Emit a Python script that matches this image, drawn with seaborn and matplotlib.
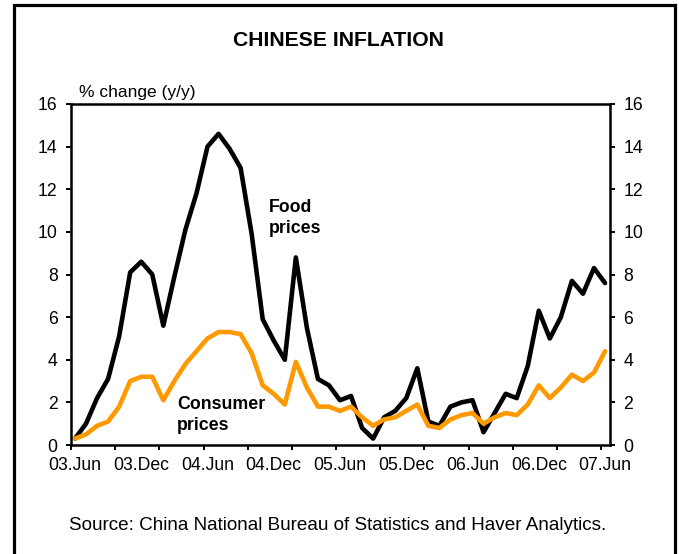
import numpy as np
import pandas as pd
import matplotlib
matplotlib.use("Agg")
import matplotlib.pyplot as plt
from matplotlib.patches import Rectangle
import seaborn as sns

# ---- data (monthly, 2003.Jun .. 2007.Jun) ----
months = list(range(49))
food = [0.3, 1.0, 2.2, 3.1, 5.1, 8.1, 8.6, 8.0, 5.6, 7.9,
        10.1, 11.8, 14.0, 14.6, 13.9, 13.0, 9.9, 5.9, 4.9, 4.0,
        8.8, 5.5, 3.1, 2.8, 2.1, 2.3, 0.8, 0.3, 1.3, 1.6,
        2.2, 3.6, 1.1, 0.9, 1.8, 2.0, 2.1, 0.6, 1.5, 2.4,
        2.2, 3.7, 6.3, 5.0, 6.0, 7.7, 7.1, 8.3, 7.6]
consumer = [0.3, 0.5, 0.9, 1.1, 1.8, 3.0, 3.2, 3.2, 2.1, 3.0,
            3.8, 4.4, 5.0, 5.3, 5.3, 5.2, 4.3, 2.8, 2.4, 1.9,
            3.9, 2.7, 1.8, 1.8, 1.6, 1.8, 1.3, 0.9, 1.2, 1.3,
            1.6, 1.9, 0.9, 0.8, 1.2, 1.4, 1.5, 1.0, 1.3, 1.5,
            1.4, 1.9, 2.8, 2.2, 2.7, 3.3, 3.0, 3.4, 4.4]
xtick_labels = ["03.Jun", "03.Dec", "04.Jun", "04.Dec", "05.Jun",
                "05.Dec", "06.Jun", "06.Dec", "07.Jun"]
label_months = [0, 6, 12, 18, 24, 30, 36, 42, 48]
yticks = [0, 2, 4, 6, 8, 10, 12, 14, 16]
series_names = ["Food prices", "Consumer prices"]

sns.set_theme(style="white")
plt.rcParams["font.family"] = ["Liberation Sans", "DejaVu Sans"]

W, H = 679, 554
fig = plt.figure(figsize=(W / 100, H / 100), dpi=100)
fig.patch.set_facecolor("white")

left_px, right_px, top_px, bot_px = 71, 610, 104, 445
ax = fig.add_axes([left_px / W, 1 - bot_px / H,
                   (right_px - left_px) / W, (bot_px - top_px) / H])
ax.set_facecolor("white")

df = pd.DataFrame({
    "month": months * 2,
    "value": food + consumer,
    "series": [series_names[0]] * len(food) + [series_names[1]] * len(consumer),
})
sns.lineplot(data=df, x="month", y="value", hue="series",
             hue_order=series_names,
             palette={series_names[0]: "black", series_names[1]: "#FF9900"},
             linewidth=3.3, legend=False, ax=ax)

x0 = -0.36
ax.set_xlim(x0, 48.45)
ax.set_ylim(0, 16)
ax.set_xlabel("")
ax.set_ylabel("")

# major ticks every 4 months (no labels), labels every 6 months (no marks)
ax.set_xticks([x0 + 4 * k for k in range(13)])
ax.set_xticklabels([])
ax.set_xticks(label_months, labels=xtick_labels, minor=True)
ax.tick_params(axis="x", which="minor", length=0, pad=9, labelsize=12.7,
               colors="black")
ax.tick_params(axis="x", which="major", direction="out", length=3.6,
               width=1.4, bottom=True, color="black")

ax.set_yticks(yticks)
ax.set_yticklabels([str(v) for v in yticks])
ax.tick_params(axis="y", which="major", direction="out", length=3.6,
               width=1.4, left=True, right=True, labelleft=True,
               labelright=True, pad=6, labelsize=12.7, colors="black")

for s in ax.spines.values():
    s.set_visible(True)
    s.set_color("black")
    s.set_linewidth(1.8)

# annotations
ax.text(17.57, 11.55, "Food\nprices", fontsize=12.8, fontweight="bold",
        ha="left", va="top", color="black", linespacing=1.3)
ax.text(9.24, 2.3, "Consumer\nprices", fontsize=12.8, fontweight="bold",
        ha="left", va="top", color="black", linespacing=1.3)

# figure texts
fig.text(338 / W, 1 - 40 / H, "CHINESE INFLATION", fontsize=15.2,
         fontweight="bold", ha="center", va="center", color="black")
fig.text(79 / W, 1 - 92 / H, "% change (y/y)", fontsize=12.5,
         ha="left", va="center", color="black")
fig.text(338 / W, 1 - 525 / H,
         "Source: China National Bureau of Statistics and Haver Analytics.",
         fontsize=13.6, ha="center", va="center", color="black")

# outer frame (open at the bottom)
fig.add_artist(Rectangle((14 / W, -0.05), (675 - 14) / W, 1.05 - 5 / H,
                         transform=fig.transFigure, fill=False,
                         lw=2.3, edgecolor="black"))

fig.savefig("out.png", dpi=100)
